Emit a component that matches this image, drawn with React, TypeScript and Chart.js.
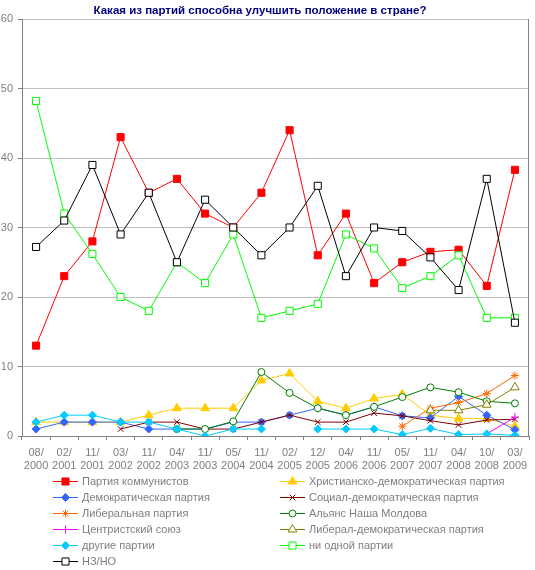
import React, { useEffect, useRef } from "react";
import { Chart, registerables } from "chart.js";
import { drawPoint } from "chart.js/helpers";

Chart.register(...registerables);

const categories = ["08/2000","02/2001","11/2001","03/2002","11/2002","04/2003","11/2003","05/2004","11/2004","02/2005","12/2005","04/2006","11/2006","05/2007","11/2007","04/2008","10/2008","03/2009"];

const communists = [13, 23, 28, 43, 35, 37, 32, 30, 35, 44, 26, 32, 22, 25, 26.5, 26.8, 21.6, 38.3];
const christianDem = [2, 2, 2, 2, 3, 4, 4, 4, 8, 9, 5, 4, 5.4, 6, 3, 2.5, 2.5, 1.4];
const democratic = [1, 2, 2, 2, 1, 1, 1, 2, 2, 3, 4, 3, 4.2, 2.9, 2.6, 5.7, 3, 0.9];
const socialDem = [null, null, null, 1, 2, 2, 1, 1, 2, 3, 2, 2, 3.3, 2.9, 2.2, 1.6, 2.3, 2.4];
const liberal = [null, null, null, null, null, null, null, null, null, null, null, null, null, 1.4, 4.0, 4.8, 6.1, 8.7];
const alliance = [null, null, null, null, null, 1, 1, 2.1, 9.2, 6.2, 4, 3, 4.2, 5.6, 7, 6.3, 5, 4.7];
const centrist = [null, null, null, null, null, null, null, null, null, null, null, null, null, null, null, null, 0.3, 2.7];
const libDem = [null, null, null, null, null, null, null, null, null, null, null, null, null, null, 3.7, 3.7, 4.5, 7.0];
const others = [2, 3, 3, 2, 2, 1, 0, 1, 1, null, 1, 1, 1, 0.2, 1.1, 0.2, 0.3, 0.1];
const noneParty = [48.2, 32, 26.2, 20, 18, 25, 22, 29, 17, 18, 19, 29, 27, 21.3, 23, 26, 17, 17];
const nzno = [27.2, 31, 39, 29, 35, 25, 34, 30, 26, 30, 36, 23, 30, 29.5, 25.7, 21, 37, 16.3];

const seriesNames = [
  "Партия коммунистов",
  "Христианско-демократическая партия",
  "Демократическая партия",
  "Социал-демократическая партия",
  "Либеральная партия",
  "Альянс Наша Молдова",
  "Центристский союз",
  "Либерал-демократическая партия",
  "другие партии",
  "ни одной партии",
  "НЗ/НО",
];

const title = "Какая из партий способна улучшить положение в стране?";

const FONT = "'Liberation Sans', Arial, sans-serif";

type Style = { color: string; point: string; radius: number; fill: string };
const styles: Style[] = [
  { color: "#ff0000", point: "rect", radius: 5, fill: "#ff0000" },
  { color: "#ffcc00", point: "triangle", radius: 5, fill: "#ffcc00" },
  { color: "#3366ff", point: "rectRot", radius: 4, fill: "#3366ff" },
  { color: "#800000", point: "crossRot", radius: 4, fill: "#800000" },
  { color: "#ff6600", point: "star", radius: 4, fill: "#ff6600" },
  { color: "#008000", point: "circle", radius: 3.5, fill: "#ffffff" },
  { color: "#ff00ff", point: "cross", radius: 4, fill: "#ff00ff" },
  { color: "#808000", point: "triangle", radius: 5, fill: "#ffffff" },
  { color: "#00ccff", point: "rectRot", radius: 4, fill: "#00ccff" },
  { color: "#00ff00", point: "rect", radius: 5, fill: "#ffffff" },
  { color: "#000000", point: "rect", radius: 5, fill: "#ffffff" },
];

const seriesData = [communists, christianDem, democratic, socialDem, liberal, alliance, centrist, libDem, others, noneParty, nzno];

const decorPlugin = {
  id: "decor",
  beforeDatasetsDraw(chart: any) {
    const { ctx, chartArea } = chart;
    ctx.save();
    ctx.strokeStyle = "#808080";
    ctx.lineWidth = 1;
    ctx.beginPath();
    const rx = Math.round(chartArea.right) - 0.5;
    ctx.moveTo(rx, chartArea.top);
    ctx.lineTo(rx, chartArea.bottom);
    ctx.stroke();
    ctx.restore();
  },
  afterDraw(chart: any) {
    const { ctx } = chart;
    ctx.save();
    ctx.font = `bold 11.5px ${FONT}`;
    ctx.fillStyle = "#000080";
    ctx.textAlign = "center";
    ctx.textBaseline = "middle";
    ctx.fillText(title, 260, 11);

    ctx.font = `11px ${FONT}`;
    seriesNames.forEach((name, i) => {
      const col = i % 2;
      const row = Math.floor(i / 2);
      const x0 = col === 0 ? 53 : 280;
      const y = 481.5 + row * 16;
      const st = styles[i];
      ctx.strokeStyle = st.color;
      ctx.lineWidth = 1;
      ctx.beginPath();
      ctx.moveTo(x0, y);
      ctx.lineTo(x0 + 25, y);
      ctx.stroke();
      ctx.fillStyle = st.fill;
      ctx.strokeStyle = st.color;
      drawPoint(ctx, { pointStyle: st.point as any, rotation: 0, radius: st.radius, borderWidth: 1 }, x0 + 12.5, y);
      ctx.fillStyle = "#7f7f7f";
      ctx.textAlign = "left";
      ctx.textBaseline = "middle";
      ctx.fillText(name, x0 + 29, y + 0.5);
    });
    ctx.restore();
  },
};

export default function App() {
  const ref = useRef<HTMLCanvasElement | null>(null);
  useEffect(() => {
    document.body.style.margin = "0";
    const canvas = ref.current!;
    const n = seriesNames.length;
    const chart = new Chart(canvas, {
      type: "line",
      data: {
        labels: categories.map((c) => [c.slice(0, 3), c.slice(3)]),
        datasets: seriesData.map((d, i) => ({
          label: seriesNames[i],
          data: d,
          borderColor: styles[i].color,
          backgroundColor: styles[i].fill,
          borderWidth: 1,
          pointStyle: styles[i].point as any,
          pointRadius: styles[i].radius,
          pointHoverRadius: styles[i].radius,
          pointBorderColor: styles[i].color,
          pointBackgroundColor: styles[i].fill,
          pointBorderWidth: 1,
          tension: 0,
          spanGaps: false,
          fill: false,
          order: n - i,
        })),
      },
      options: {
        responsive: false,
        animation: false,
        devicePixelRatio: 1,
        layout: { padding: { top: 19, right: 1, bottom: 100, left: 0 } },
        plugins: {
          legend: { display: false },
          title: { display: false },
          tooltip: { enabled: false },
        },
        scales: {
          x: {
            offset: true,
            grid: {
              offset: true,
              drawOnChartArea: false,
              drawTicks: true,
              tickLength: 4,
              color: "#808080",
            },
            border: { display: true, color: "#808080" },
            ticks: {
              color: "#7f7f7f",
              font: { family: FONT, size: 11, lineHeight: 1.22 },
              maxRotation: 0,
              autoSkip: false,
              padding: 6,
            },
            afterFit: (s: any) => {
              s.height = 34;
            },
          },
          y: {
            min: 0,
            max: 60,
            ticks: {
              stepSize: 10,
              color: "#7f7f7f",
              font: { family: FONT, size: 11 },
              padding: 5,
            },
            grid: {
              color: "#c0c0c0",
              tickColor: "#808080",
              tickLength: 4,
            },
            border: { display: true, color: "#808080" },
            afterFit: (s: any) => {
              s.width = 22;
            },
          },
        },
      },
      plugins: [decorPlugin],
    });
    return () => chart.destroy();
  }, []);
  return (
    <div style={{ width: 535, height: 570 }}>
      <canvas ref={ref} width={535} height={570} style={{ display: "block" }} />
    </div>
  );
}
